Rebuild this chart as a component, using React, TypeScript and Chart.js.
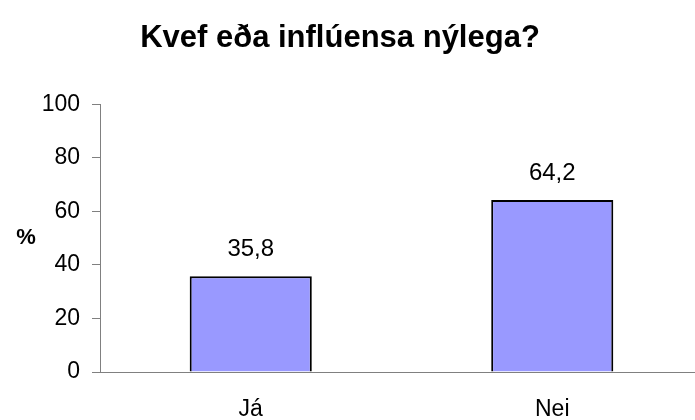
import React, { useEffect, useRef } from "react";
import { Chart, registerables } from "chart.js";

Chart.register(...registerables);

const categories = ["Já", "Nei"];
const values = [35.8, 64.2];
const valueLabels = ["35,8", "64,2"];
const yTicks = [0, 20, 40, 60, 80, 100];
const titleText = "Kvef eða inflúensa nýlega?";
const yAxisLabel = "%";

const FONT = "'Liberation Sans', Arial, sans-serif";
const SHIFT = 23;

const labelPlugin = {
  id: "extraText",
  afterDatasetsDraw(chart: any) {
    const ctx = chart.ctx;
    const meta = chart.getDatasetMeta(0);
    ctx.save();
    ctx.fillStyle = "#000";
    ctx.font = `24px ${FONT}`;
    ctx.textAlign = "center";
    ctx.textBaseline = "alphabetic";
    meta.data.forEach((bar: any, i: number) => {
      ctx.fillText(valueLabels[i], bar.x, bar.y - 20);
    });
    const area = chart.chartArea;
    ctx.font = `bold 22px ${FONT}`;
    ctx.textAlign = "center";
    ctx.textBaseline = "middle";
    ctx.fillText(yAxisLabel, 26 + SHIFT, (area.top + area.bottom) / 2);
    ctx.restore();
  },
};

export default function App() {
  const ref = useRef<HTMLCanvasElement>(null);
  useEffect(() => {
    if (!ref.current) return;
    const chart = new Chart(ref.current, {
      type: "bar",
      data: {
        labels: categories,
        datasets: [
          {
            data: values,
            backgroundColor: "#9999FF",
            borderColor: "#000000",
            borderWidth: 2,
            categoryPercentage: 1,
            barPercentage: 0.405,
          },
        ],
      },
      options: {
        responsive: false,
        animation: false,
        layout: { padding: { left: 0, right: 0, top: 0, bottom: 0 } },
        plugins: {
          legend: { display: false },
          tooltip: { enabled: false },
          title: {
            display: true,
            text: titleText,
            color: "#000",
            font: { family: FONT, size: 31, weight: "bold", lineHeight: 1.2 },
            padding: { top: 20, bottom: 47 },
          },
        },
        scales: {
          x: {
            afterFit: (s: any) => {
              s.height = 48;
            },
            grid: { display: false, drawTicks: false },
            border: { display: true, color: "#808080", width: 1 },
            ticks: {
              color: "#000",
              font: { family: FONT, size: 23 },
              padding: 24,
            },
          },
          y: {
            min: 0,
            max: 100,
            afterFit: (s: any) => {
              s.width = 100 + SHIFT;
            },
            afterBuildTicks: (s: any) => {
              s.ticks = yTicks.map((v) => ({ value: v }));
            },
            grid: {
              display: true,
              drawOnChartArea: false,
              drawTicks: true,
              tickLength: 8,
              color: "#808080",
            },
            border: { display: true, color: "#808080", width: 1 },
            ticks: {
              color: "#000",
              font: { family: FONT, size: 23 },
              padding: 12,
            },
          },
        },
      },
      plugins: [labelPlugin],
    });
    return () => chart.destroy();
  }, []);
  return (
    <div
      style={{
        position: "fixed",
        left: 0,
        top: 0,
        width: 695,
        height: 420,
        overflow: "hidden",
        background: "#fff",
      }}
    >
      <canvas
        ref={ref}
        width={726}
        height={420}
        style={{ position: "absolute", left: -SHIFT, top: 0, width: 726, height: 420 }}
      />
    </div>
  );
}
